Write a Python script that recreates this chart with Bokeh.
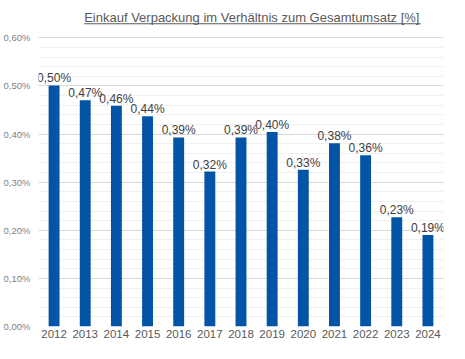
from bokeh.plotting import figure
from bokeh.models import FactorRange, Range1d, FixedTicker, BoxAnnotation, ColumnDataSource, Label
from bokeh.embed import file_html
from bokeh.resources import INLINE
from bokeh.core.properties import value

years = ["2012", "2013", "2014", "2015", "2016", "2017", "2018",
         "2019", "2020", "2021", "2022", "2023", "2024"]
shares = [0.501, 0.470, 0.459, 0.437, 0.393, 0.322, 0.393,
          0.404, 0.326, 0.381, 0.356, 0.227, 0.190]
labels = [f"{v:.2f}".replace(".", ",") + "%" for v in shares]
y_ticks = [0.0, 0.1, 0.2, 0.3, 0.4, 0.5, 0.6]
y_tick_labels = ["0,00%", "0,10%", "0,20%", "0,30%", "0,40%", "0,50%", "0,60%"]
title_text = "Einkauf Verpackung im Verhältnis zum Gesamtumsatz [%]"

BAR = "#0254A6"
FONT = "Liberation Sans"

src = ColumnDataSource(dict(years=years, shares=shares, labels=labels))

p = figure(width=449, height=343,
           x_range=FactorRange(factors=years, range_padding=0),
           y_range=Range1d(0, 0.6734),
           output_backend="svg", toolbar_location=None,
           min_border_left=35, min_border_right=6,
           min_border_top=2, min_border_bottom=17)

p.background_fill_color = "white"
p.border_fill_color = "white"
p.outline_line_color = None

p.vbar(x="years", top="shares", width=0.35, source=src,
       fill_color=BAR, line_color=None)
p.text(x="years", y="shares", text="labels", source=src,
       text_align="center", text_baseline="alphabetic", y_offset=-7,
       text_font=value(FONT), text_font_size="12px", text_color="#404040")

minor = [round(0.02 * i, 2) for i in range(31)]
p.yaxis.ticker = FixedTicker(ticks=y_ticks, minor_ticks=minor)
p.yaxis.major_label_overrides = {t: l for t, l in zip(y_ticks, y_tick_labels)}
p.yaxis.axis_line_color = None
p.yaxis.major_tick_line_color = None
p.yaxis.minor_tick_line_color = None
p.yaxis.major_tick_out = 0
p.yaxis.major_tick_in = 0
p.yaxis.minor_tick_out = 0
p.yaxis.minor_tick_in = 0
p.yaxis.major_label_standoff = 8
p.yaxis.major_label_text_font = FONT
p.yaxis.major_label_text_font_size = "9.5px"
p.yaxis.major_label_text_color = "#7f7f7f"

p.xaxis.axis_line_color = None
p.xaxis.major_tick_line_color = None
p.xaxis.minor_tick_line_color = None
p.xaxis.major_tick_out = 0
p.xaxis.major_tick_in = 0
p.xaxis.major_label_standoff = 3
p.xaxis.major_label_text_font = FONT
p.xaxis.major_label_text_font_size = "11.5px"
p.xaxis.major_label_text_color = "#595959"

p.xgrid.visible = False
p.ygrid.grid_line_color = "#d9d9d9"
p.ygrid.minor_grid_line_color = "#f0f0f0"

title = Label(x=1.466, y=0.642, text=title_text, text_align="left",
              text_baseline="alphabetic", text_font=FONT,
              text_font_size="13px", text_color="#595959")
p.add_layout(title)

underline = BoxAnnotation(left=1.466, right=12.267, bottom=0.6282, top=0.6303,
                          fill_color="#595959", fill_alpha=1.0, line_color=None)
p.add_layout(underline)

open("out.html", "w").write(file_html(p, INLINE))
